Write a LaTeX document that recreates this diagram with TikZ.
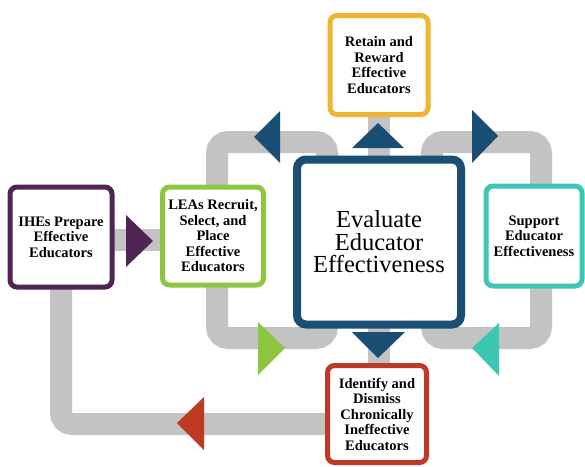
\documentclass[tikz,border=0pt]{standalone}
\usepackage{fontspec}
\setmainfont{Liberation Serif}
\usepackage{xcolor}
\usetikzlibrary{shadows}
\definecolor{eePurple}{HTML}{4F2653}
\definecolor{eeGreen}{HTML}{8DC641}
\definecolor{eeGold}{HTML}{EEB530}
\definecolor{eeNavy}{HTML}{1B4E75}
\definecolor{eeTeal}{HTML}{3CC7B5}
\definecolor{eeRed}{HTML}{BE3A25}
\definecolor{eeGray}{HTML}{C3C3C3}
\pgfdeclarelayer{background}
\pgfsetlayers{background,main}
\tikzset{
  smallbox/.style={draw, line width=5pt, rounded corners=7pt, fill=white, align=center,
    inner sep=1pt, font=\bfseries\fontsize{14.5}{15.5}\selectfont,
    drop shadow={shadow xshift=1.5pt, shadow yshift=-1.5pt, opacity=.25}},
  hubbox/.style={draw=eeNavy, line width=8pt, rounded corners=9pt, fill=white, align=center,
    font=\fontsize{24.5}{22.5}\selectfont,
    drop shadow={shadow xshift=2pt, shadow yshift=-2pt, opacity=.25}},
  pipe/.style={draw=eeGray, line width=22pt, rounded corners=11pt,
    preaction={draw=black, opacity=.12, transform canvas={shift={(1.5pt,-2pt)}}}}
}

\begin{document}
\begin{tikzpicture}[x=1pt,y=-1pt]
  \useasboundingbox (0,0) rectangle (585,466);
  % boxes
  \node[hubbox, minimum width=164pt, minimum height=165pt] (evaluate) at (379,242)
    {Evaluate\\Educator\\Effectiveness};
  \node[smallbox, draw=eeGold, minimum width=98pt, minimum height=99pt] (retain) at (379,65)
    {Retain and\\Reward\\Effective\\Educators};
  \node[smallbox, draw=eePurple, minimum width=102pt, minimum height=100pt] (ihe) at (61,237)
    {IHEs Prepare\\Effective\\Educators};
  \node[smallbox, draw=eeGreen, minimum width=101pt, minimum height=98pt] (lea) at (213,236)
    {LEAs Recruit,\\Select, and\\Place\\Effective\\Educators};
  \node[smallbox, draw=eeTeal, minimum width=96pt, minimum height=100pt] (support) at (534,236)
    {Support\\Educator\\Effectiveness};
  \node[smallbox, draw=eeRed, minimum width=99pt, minimum height=97pt] (dismiss) at (377,414)
    {Identify and\\Dismiss\\Chronically\\Ineffective\\Educators};
  % pipes behind the boxes
  \coordinate (leftloopNW) at (217,142);
  \coordinate (leftloopSE) at (327,338);
  \coordinate (rightloopNW) at (432,142);
  \coordinate (rightloopSE) at (541,338);
  \begin{pgfonlayer}{background}
    \draw[pipe] (leftloopNW) rectangle (leftloopSE);
    \draw[pipe] (rightloopNW) rectangle (rightloopSE);
    \draw[pipe] (retain.center) -- (retain.center |- dismiss.center);
    \draw[pipe] ([yshift=-3pt]ihe.center) -- ([yshift=-3pt]ihe.center -| lea.center);
    \draw[pipe] (ihe.center) |- ([yshift=-10pt]dismiss.center);
  \end{pgfonlayer}
  % arrow heads on the pipes
  \fill[eePurple] (153,241) -- (126,215) -- (126,267) -- cycle;
  \fill[eeNavy] (254,137) -- (280,111) -- (280,163) -- cycle;
  \fill[eeNavy] (378,123) -- (352,148) -- (404,148) -- cycle;
  \fill[eeNavy] (498,136) -- (472,110) -- (472,163) -- cycle;
  \fill[eeGreen] (285,348) -- (258,322) -- (258,375) -- cycle;
  \fill[eeNavy] (378,358) -- (352,332) -- (405,332) -- cycle;
  \fill[eeTeal] (472,348) -- (499,323) -- (499,376) -- cycle;
  \fill[eeRed] (177,423) -- (204,397) -- (204,450) -- cycle;
\end{tikzpicture}
\end{document}
